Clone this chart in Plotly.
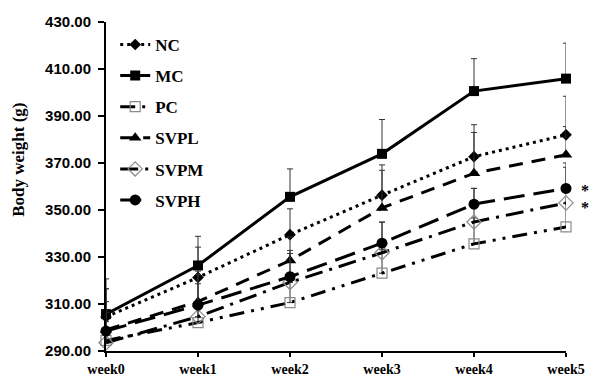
import plotly.graph_objects as go

weeks = ["week0", "week1", "week2", "week3", "week4", "week5"]

nc = [304.5, 321.3, 339.5, 356.3, 372.7, 382.0]
mc = [305.7, 326.4, 355.6, 373.9, 400.6, 405.9]
pc = [294.5, 302.1, 310.6, 323.1, 335.6, 342.8]
svpl = [299.0, 311.0, 328.5, 350.9, 365.6, 373.5]
svpm = [293.5, 304.6, 319.2, 331.8, 344.9, 353.0]
svph = [298.5, 309.5, 321.6, 335.9, 352.5, 359.2]

nc_err = [12, 12.9, 11, 12.9, 13.6, 16.4]
mc_err = [15, 12.4, 11.9, 14.6, 13.8, 15.1]
pc_err = [8, 9, 10, 10, 11, 10]
svpl_err = [12, 13, 10, 16, 17.4, 12]
svpm_err = [13, 14, 12.3, 13, 14.3, 15.2]
svph_err = [18, 13, 11.2, 9, 6.7, 10.8]

y_ticks = [290, 310, 330, 350, 370, 390, 410, 430]
# (value, vertical nudge in px) for the significance marks
significant = [(svph[-1], 1), (svpm[-1], -2)]

series = [
    ("NC", nc, nc_err, dict(dash="3px,4px", width=3), dict(symbol="diamond", size=9, color="black")),
    ("MC", mc, mc_err, dict(dash="solid", width=3), dict(symbol="square", size=10, color="black")),
    ("PC", pc, pc_err, dict(dash="15px,7px,3px,7px,3px,7px", width=3),
     dict(symbol="square-open", size=10, color="#8a8a8a", line=dict(width=1.2, color="#8a8a8a"))),
    ("SVPL", svpl, svpl_err, dict(dash="14px,9px", width=3), dict(symbol="triangle-up", size=11, color="black")),
    ("SVPM", svpm, svpm_err, dict(dash="18px,7px,3px,7px", width=3),
     dict(symbol="diamond-open", size=11, color="#8a8a8a", line=dict(width=1.2, color="#8a8a8a"))),
    ("SVPH", svph, svph_err, dict(dash="21px,9px", width=3), dict(symbol="circle", size=11, color="black")),
]

fig = go.Figure()
for name, vals, errs, line, marker in series:
    fig.add_trace(go.Scatter(
        x=weeks, y=vals, name=name, mode="lines+markers",
        line=dict(color="black", **line),
        marker=marker,
        error_y=dict(type="data", array=errs, arrayminus=[0] * len(errs),
                     symmetric=False, color="#333333", thickness=1, width=3),
        cliponaxis=False,
        legendgroup=name,
    ))

# significance marks beside the last week
for val, nudge in significant:
    fig.add_annotation(x="week5", y=val, text="<b>*</b>", showarrow=False, xshift=19, yshift=nudge - 3,
                       font=dict(family="Liberation Serif", size=16, color="black"))

# y-axis title placed as a rotated annotation so it can sit a little above centre
fig.add_annotation(xref="paper", yref="paper", x=-0.19, y=0.58, xanchor="center", yanchor="middle",
                   text="<b>Body weight (g)</b>", textangle=-90, showarrow=False,
                   font=dict(family="Liberation Serif", size=17, color="black"))

fig.update_layout(
    width=591, height=379,
    margin=dict(l=106, r=25, t=22, b=28),
    paper_bgcolor="white", plot_bgcolor="white",
    showlegend=True,
    legend=dict(x=0.02, y=0.985, xanchor="left", yanchor="top",
                bgcolor="rgba(0,0,0,0)", tracegroupgap=6,
                font=dict(family="Liberation Serif", size=17, color="black", weight="bold")),
    xaxis=dict(type="category", range=[0, 5], showline=True, linecolor="black", linewidth=2,
               ticks="outside", ticklen=4, tickwidth=2, tickcolor="black", showgrid=False,
               zeroline=False, ticklabelstandoff=0, automargin=False,
               tickfont=dict(family="Liberation Serif", size=14, color="black", weight="bold")),
    yaxis=dict(range=[290, 430], tickvals=y_ticks, ticktext=[f"{v:.2f}" for v in y_ticks],
               showline=True, linecolor="black", linewidth=2, ticks="outside", ticklen=6,
               tickwidth=2, tickcolor="black", showgrid=False, zeroline=False,
               ticklabelstandoff=4, automargin=False,
               tickfont=dict(family="Liberation Sans", size=15, color="black", weight="bold")),
)

fig.write_html("out.html")
